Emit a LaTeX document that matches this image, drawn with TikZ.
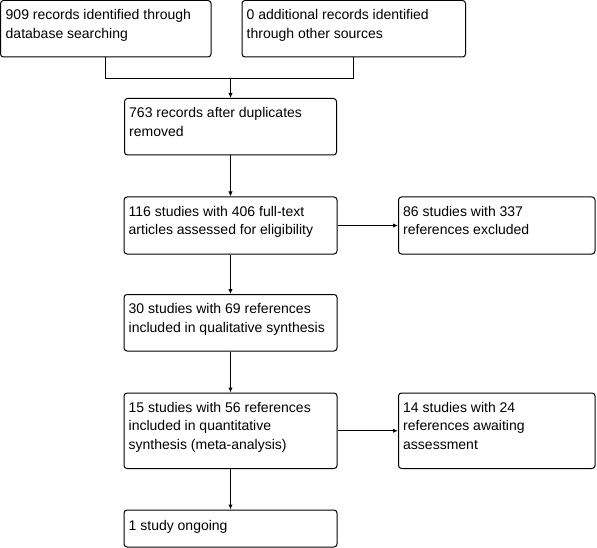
\documentclass[tikz,border=0pt]{standalone}
\usepackage{fontspec}
\setmainfont{Liberation Sans}
\usetikzlibrary{arrows.meta,fit}
\begin{document}
\begin{tikzpicture}[x=1pt,y=-1pt,
  frame/.style={draw=black, line width=1pt, rounded corners=3pt, inner sep=0pt},
  txt/.style={anchor=north west, inner sep=0pt, align=left,
    font=\fontsize{14}{18.5}\selectfont, execute at begin node={\rule{0pt}{11pt}}},
  conn/.style={draw=black, line width=1pt},
  arr/.style={conn, -{Latex[length=5pt,width=4.5pt]}}]
\useasboundingbox (0,0) rectangle (597,548);
\fill[white] (0,0) rectangle (597,548);
% boxes
\node[frame, fit={(0.5,0.5) (211,57)}] (A) {};
\node[frame, fit={(242,0.5) (465.5,57)}] (B) {};
\node[frame, fit={(124.5,98.5) (336.5,155)}] (C) {};
\node[frame, fit={(124,197) (337,254)}] (D) {};
\node[frame, fit={(398.5,197) (595,254)}] (E) {};
\node[frame, fit={(124,294.5) (337,351)}] (F) {};
\node[frame, fit={(124,393) (337,468.5)}] (G) {};
\node[frame, fit={(398.5,393) (595,468.5)}] (H) {};
\node[frame, fit={(124,510) (337,547)}] (I) {};
% texts
\node[txt] (At) at ([xshift=5.5pt,yshift=-9.5pt]A.north west) {909 records identified through\\database searching};
\node[txt] (Bt) at ([xshift=5pt,yshift=-9.5pt]B.north west) {0 additional records identified\\through other sources};
\node[txt] (Ct) at ([xshift=5pt,yshift=-9.5pt]C.north west) {763 records after duplicates\\removed};
\node[txt] (Dt) at ([xshift=5pt,yshift=-9.5pt]D.north west) {116 studies with 406 full-text\\articles assessed for eligibility};
\node[txt] (Et) at ([xshift=5pt,yshift=-9.5pt]E.north west) {86 studies with 337\\references excluded};
\node[txt] (Ft) at ([xshift=5pt,yshift=-9.5pt]F.north west) {30 studies with 69 references\\included in qualitative synthesis};
\node[txt] (Gt) at ([xshift=5pt,yshift=-9.5pt]G.north west) {15 studies with 56 references\\included in quantitative\\synthesis (meta-analysis)};
\node[txt] (Ht) at ([xshift=5pt,yshift=-9.5pt]H.north west) {14 studies with 24\\references awaiting\\assessment};
\node[txt] (It) at ([xshift=5pt,yshift=-9.5pt]I.north west) {1 study ongoing};
% connectors
\coordinate (j) at (230.5,78.5);
\draw[conn] (A.south) |- (j);
\draw[conn] (B.south) |- (j);
\draw[arr] (j) -- (C.north);
\draw[arr] (C.south) -- (D.north);
\draw[arr] (D.east) -- (E.west);
\draw[arr] (D.south) -- (F.north);
\draw[arr] (F.south) -- (G.north);
\draw[arr] (G.east) -- (H.west);
\draw[arr] (G.south) -- (I.north);
\end{tikzpicture}
\end{document}
